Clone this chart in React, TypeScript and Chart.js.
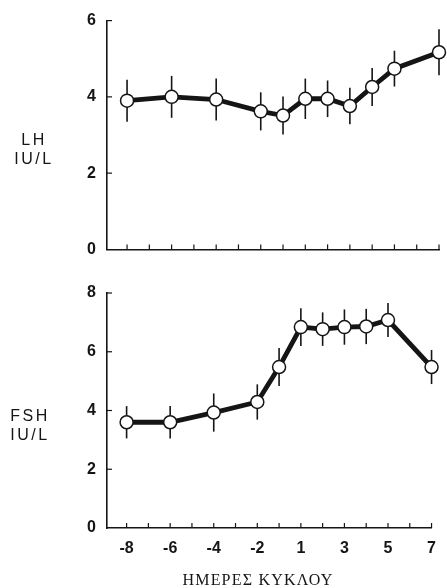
import React, { useEffect, useRef } from 'react';
import { Chart, registerables } from 'chart.js';

Chart.register(...registerables);

// Cycle days on the shared x axis (there is no day 0)
const axisDays = [-8, -7, -6, -5, -4, -3, -2, -1, 1, 2, 3, 4, 5, 6, 7];
const labelledDays = [-8, -6, -4, -2, 1, 3, 5, 7];
const sampleDays = [-8, -6, -4, -2, -1, 1, 2, 3, 4, 5, 7];

// LH (IU/L): mean and error
const lhMean = [3.9, 4.0, 3.93, 3.62, 3.51, 3.95, 3.95, 3.76, 4.26, 4.74, 5.17];
const lhErr = [0.55, 0.55, 0.55, 0.5, 0.5, 0.53, 0.48, 0.48, 0.5, 0.47, 0.6];

// FSH (IU/L): mean and error
const fshMean = [3.6, 3.6, 3.93, 4.29, 5.48, 6.84, 6.77, 6.84, 6.86, 7.08, 5.48];
const fshErr = [0.55, 0.55, 0.65, 0.6, 0.65, 0.64, 0.57, 0.6, 0.6, 0.58, 0.58];

const INK = '#151515';
const SANS = '"Liberation Sans", Arial, sans-serif';
const SERIF = '"Liberation Serif", "Times New Roman", serif';

const dayPos = (d: number) => axisDays.indexOf(d);

type PanelProps = {
  mean: number[];
  err: number[];
  yMax: number;
  title: string[];
  titleX: number;
  titleY: number;
  height: number;
  padTop: number;
  xHeight: number;
  showXLabels: boolean;
  xTitle?: string;
};

function Panel(props: PanelProps) {
  const ref = useRef<HTMLCanvasElement | null>(null);

  useEffect(() => {
    const canvas = ref.current;
    if (!canvas) return;
    const { mean, err, yMax, title, titleX, titleY, padTop, xHeight, showXLabels, xTitle } = props;

    const decorations = {
      id: 'decorations',
      beforeDatasetsDraw(chart: any) {
        const ctx = chart.ctx;
        const xs = chart.scales.x;
        const ys = chart.scales.y;
        ctx.save();
        ctx.strokeStyle = INK;
        ctx.lineWidth = 1.6;
        sampleDays.forEach((d, i) => {
          const px = xs.getPixelForValue(dayPos(d));
          ctx.beginPath();
          ctx.moveTo(px, ys.getPixelForValue(mean[i] + err[i]));
          ctx.lineTo(px, ys.getPixelForValue(mean[i] - err[i]));
          ctx.stroke();
        });
        ctx.restore();
      },
      afterDraw(chart: any) {
        const ctx = chart.ctx;
        const xs = chart.scales.x;
        const ys = chart.scales.y;
        const area = chart.chartArea;
        ctx.save();
        ctx.strokeStyle = INK;
        ctx.lineWidth = 1.2;
        // inward tick marks on the day axis
        axisDays.forEach((_, i) => {
          const px = xs.getPixelForValue(i);
          ctx.beginPath();
          ctx.moveTo(px, area.bottom);
          ctx.lineTo(px, area.bottom - 5);
          ctx.stroke();
        });
        // inward tick marks on the concentration axis
        for (let v = 2; v <= yMax; v += 2) {
          const py = ys.getPixelForValue(v);
          ctx.beginPath();
          ctx.moveTo(area.left, py);
          ctx.lineTo(area.left + 5, py);
          ctx.stroke();
        }
        // hormone caption beside the axis
        ctx.fillStyle = INK;
        ctx.textAlign = 'center';
        ctx.textBaseline = 'middle';
        ctx.font = `16px ${SANS}`;
        (ctx as any).letterSpacing = '2.5px';
        title.forEach((line, i) => {
          ctx.fillText(line, titleX, titleY + i * 18.5);
        });
        if (xTitle) {
          ctx.font = `16px ${SERIF}`;
          (ctx as any).letterSpacing = '1.2px';
          ctx.fillText(xTitle, 258, chart.height - 7);
        }
        ctx.restore();
      },
    };

    const chart = new Chart(canvas, {
      type: 'line',
      data: {
        datasets: [
          {
            data: sampleDays.map((d, i) => ({ x: dayPos(d), y: mean[i] })),
            borderColor: INK,
            borderWidth: 4.8,
            pointRadius: 6.5,
            pointBackgroundColor: '#ffffff',
            pointBorderColor: INK,
            pointBorderWidth: 1.5,
            tension: 0,
            clip: false as any,
          },
        ],
      },
      options: {
        responsive: false,
        maintainAspectRatio: false,
        animation: false,
        layout: { padding: { top: padTop, right: 6, left: 0, bottom: 0 } },
        plugins: { legend: { display: false }, tooltip: { enabled: false } },
        scales: {
          x: {
            type: 'linear',
            min: -0.9,
            max: axisDays.length - 1,
            grid: { display: false, drawTicks: false },
            border: { display: true, color: INK, width: 1.6 },
            afterBuildTicks: (s: any) => {
              s.ticks = axisDays.map((_, i) => ({ value: i }));
            },
            ticks: {
              display: showXLabels,
              autoSkip: false,
              maxRotation: 0,
              padding: 11,
              color: INK,
              font: { family: SANS, size: 16, weight: 'bold' },
              callback: (v: any) => {
                const d = axisDays[Number(v)];
                return d !== undefined && labelledDays.includes(d) ? String(d) : '';
              },
            },
            afterFit: (s: any) => {
              s.height = xHeight;
            },
          },
          y: {
            min: 0,
            max: yMax,
            grid: { display: false, drawTicks: false },
            border: { display: true, color: INK, width: 1.6 },
            ticks: {
              stepSize: 2,
              padding: 11,
              color: INK,
              font: { family: SANS, size: 16, weight: 'bold' },
            },
            afterFit: (s: any) => {
              s.width = 107;
            },
          },
        },
      },
      plugins: [decorations],
    });

    return () => chart.destroy();
  }, []);

  return (
    <canvas
      ref={ref}
      width={447}
      height={props.height}
      style={{ display: 'block', width: 447, height: props.height }}
    />
  );
}

export default function App() {
  return (
    <div
      style={{
        position: 'fixed',
        left: 0,
        top: 0,
        width: 447,
        height: 588,
        background: '#ffffff',
      }}
    >
      <Panel
        mean={lhMean}
        err={lhErr}
        yMax={6}
        title={['LH', 'IU/L']}
        titleX={34}
        titleY={141}
        height={270}
        padTop={18}
        xHeight={20}
        showXLabels={false}
      />
      <Panel
        mean={fshMean}
        err={fshErr}
        yMax={8}
        title={['FSH', 'IU/L']}
        titleX={30}
        titleY={147}
        height={318}
        padTop={23}
        xHeight={60}
        showXLabels={true}
        xTitle="ΗΜΕΡΕΣ ΚΥΚΛΟΥ"
      />
    </div>
  );
}
